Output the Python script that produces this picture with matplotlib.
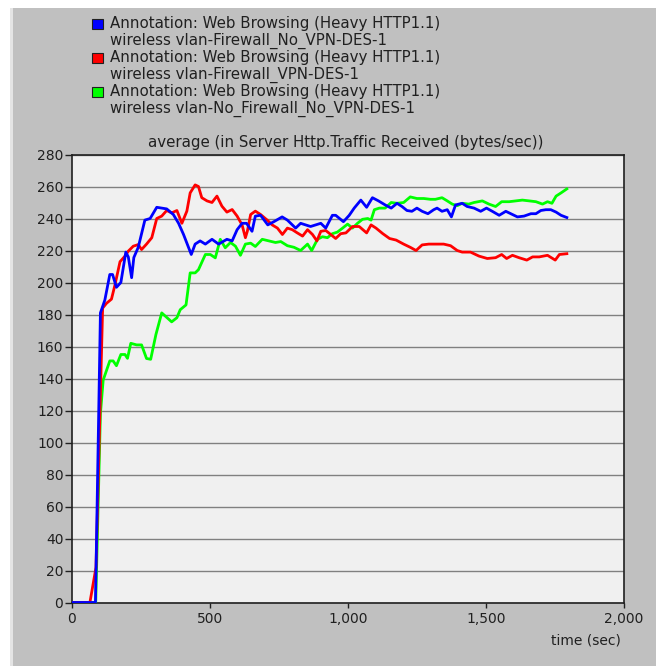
import matplotlib
matplotlib.use("Agg")
import matplotlib.pyplot as plt
from matplotlib.patches import Rectangle

# values (time in sec, bytes/sec)
t_blue = [0, 86, 104, 120, 138, 148, 162, 178, 196, 205,
          217, 225, 241, 265, 284, 308, 344, 368, 387, 405,
          433, 447, 465, 484, 508, 532, 562, 581, 599, 617,
          633, 653, 665, 684, 710, 732, 762, 781, 811, 829,
          865, 902, 920, 944, 956, 984, 1005, 1023, 1047, 1068,
          1089, 1111, 1135, 1157, 1178, 1196, 1214, 1232, 1250, 1269,
          1290, 1311, 1323, 1341, 1360, 1375, 1390, 1414, 1432, 1457,
          1481, 1502, 1523, 1548, 1572, 1590, 1614, 1638, 1663, 1681,
          1699, 1717, 1735, 1754, 1772, 1793]
v_blue = [0, 0, 181, 189, 205, 205, 197, 200, 219, 216,
          203, 215.6, 222, 239, 240, 247, 246, 242.5, 237, 230,
          217.5, 224, 226, 224, 227, 224, 227, 226, 233, 237,
          237, 232, 241.5, 242, 236, 238, 241, 239, 234, 237,
          235, 237, 234, 242, 242, 238, 242, 246.5, 251.5, 247,
          253, 251, 248.5, 246.5, 249.5, 247.5, 245, 244.5, 246.5, 244.5,
          243, 245.5, 246.5, 244.5, 245.5, 241, 248.5, 249.5, 247.5, 246.5,
          244.5, 246.5, 244.5, 242, 244.5, 243, 241, 241.5, 243, 243,
          245, 245.5, 245.5, 244, 242, 240.6]

t_red = [0, 66, 88, 112, 126, 144, 156, 175, 193, 205,
         223, 241, 253, 271, 290, 308, 326, 344, 362, 381,
         399, 417, 429, 447, 459, 471, 490, 508, 526, 544,
         562, 581, 599, 617, 629, 636, 648, 665, 684, 708,
         726, 745, 763, 781, 799, 817, 836, 854, 872, 888,
         902, 920, 938, 956, 974, 993, 1017, 1041, 1068, 1084,
         1102, 1126, 1151, 1175, 1202, 1226, 1247, 1269, 1293, 1323,
         1347, 1372, 1396, 1414, 1444, 1475, 1505, 1535, 1557, 1575,
         1596, 1620, 1648, 1669, 1693, 1723, 1751, 1766, 1793]
v_red = [0, 0, 22, 184, 187, 189.6, 198, 213, 216.5, 219.6,
         222.7, 223.7, 220.6, 224, 228, 240, 241.5, 245, 243.5, 245,
         237, 244.6, 256, 261, 260, 253, 251, 250, 254, 247.7,
         244, 245.6, 241.5, 236, 228, 232, 242.5, 244.6, 242.5, 239,
         236, 234, 230, 234, 233, 231, 229, 233, 230, 226,
         232, 232.5, 230, 227.5, 230.5, 231, 235, 235, 231, 236,
         234, 230.6, 227.5, 226.5, 224, 222, 220, 223.5, 224, 224,
         224, 223, 220, 219, 219, 216.5, 215, 215.5, 217.5, 215,
         217, 215.5, 214, 216, 216, 217, 214, 217.5, 218]

t_green = [0, 87, 104, 114, 138, 150, 162, 178, 193, 202,
           214, 235, 253, 271, 286, 305, 326, 362, 381, 393,
           414, 429, 447, 459, 484, 502, 520, 538, 556, 575,
           593, 611, 629, 648, 665, 690, 714, 738, 757, 781,
           805, 829, 854, 869, 890, 908, 926, 944, 962, 981,
           999, 1017, 1035, 1053, 1072, 1084, 1096, 1114, 1135, 1157,
           1178, 1202, 1226, 1250, 1275, 1299, 1317, 1341, 1360, 1378,
           1396, 1414, 1438, 1457, 1487, 1511, 1535, 1557, 1584, 1608,
           1632, 1657, 1681, 1705, 1723, 1739, 1754, 1772, 1793]
v_green = [0, 0, 118, 139, 151, 151, 148, 155, 155, 152.6,
           162, 161, 161, 152.5, 152, 167.5, 181, 175.4, 178, 183,
           186, 206, 206, 208, 217.5, 217.5, 215.4, 227, 221.7, 225,
           222.7, 217, 224, 224.6, 222.5, 227, 226, 225, 225.6, 223,
           222, 220, 224, 220, 227, 228.6, 228, 230.5, 231.5, 234,
           236.5, 234, 237, 239.5, 240, 239, 245.5, 246.5, 246.5, 250,
           249.5, 250, 253.5, 252.5, 252.5, 252, 252, 253, 251, 249,
           248, 249.5, 249, 250, 251, 249, 247.5, 250.5, 250.5, 251,
           251.5, 251, 250.5, 249, 250.5, 249.5, 254, 256, 258.5]

x_ticks = [0, 500, 1000, 1500, 2000]
x_tick_labels = ['0', '500', '1,000', '1,500', '2,000']
y_ticks = list(range(0, 281, 20))

legend_lines = [
    ('#0000ff', 'Annotation: Web Browsing (Heavy HTTP1.1)', 'wireless vlan-Firewall_No_VPN-DES-1'),
    ('#ff0000', 'Annotation: Web Browsing (Heavy HTTP1.1)', 'wireless vlan-Firewall_VPN-DES-1'),
    ('#00ff00', 'Annotation: Web Browsing (Heavy HTTP1.1)', 'wireless vlan-No_Firewall_No_VPN-DES-1'),
]

# wide sans font, closer to the old windows UI font of the screenshot
plt.rcParams['font.family'] = ['DejaVu Sans']
FS = 10          # tick labels
FS_TXT = 10.8    # legend / title
TXT = '#202020'

W, H = 656, 666
fig = plt.figure(figsize=(W / 100, H / 100), dpi=100, facecolor='#c0c0c0')

# white frame on top and left like the screenshot
fig.patches.append(Rectangle((0, 1 - 8 / H), 1, 8 / H, transform=fig.transFigure,
                             facecolor='white', edgecolor='none', zorder=0))
fig.patches.append(Rectangle((0, 0), 10 / W, 1, transform=fig.transFigure,
                             facecolor='white', edgecolor='none', zorder=0))
fig.patches.append(Rectangle((10 / W, 0), 3 / W, 1 - 8 / H, transform=fig.transFigure,
                             facecolor='#e4e4e4', edgecolor='none', zorder=0))

ax = fig.add_axes([71.7 / W, (H - 602.5) / H, (624 - 71.7) / W, (602.5 - 154.5) / H])
ax.set_facecolor('#f0f0f0')

ax.plot(t_green, v_green, color='#00ff00', linewidth=2, zorder=3)
ax.plot(t_red, v_red, color='#ff0000', linewidth=2, zorder=4)
ax.plot(t_blue, v_blue, color='#0000ff', linewidth=2, zorder=5)

ax.set_xlim(0, 2000)
ax.set_ylim(0, 280)
ax.set_xticks(x_ticks)
ax.set_xticklabels(x_tick_labels)
ax.set_yticks(y_ticks)
ax.yaxis.grid(True, color='#808080', linewidth=1)
ax.xaxis.grid(False)
ax.set_axisbelow(True)
ax.tick_params(axis='x', direction='out', length=3.5, width=1, color=TXT,
               labelsize=FS, labelcolor=TXT, pad=3)
ax.tick_params(axis='y', direction='out', length=5, width=1, color=TXT,
               labelsize=FS, labelcolor=TXT, pad=1)
for s in ax.spines.values():
    s.set_color(TXT)
    s.set_linewidth(1.2)

fig.text(621 / W, 1 - 640 / H, 'time (sec)', ha='right', va='center', fontsize=FS, color=TXT)
fig.text(346 / W, 1 - 142 / H, 'average (in Server Http.Traffic Received (bytes/sec))',
         ha='center', va='center', fontsize=FS_TXT, color=TXT)

# legend block at the top
for i, (col, l1, l2) in enumerate(legend_lines):
    yc = 23.5 + i * 34
    fig.patches.append(Rectangle((92.5 / W, 1 - (yc + 5) / H), 10 / W, 10 / H,
                                 transform=fig.transFigure, facecolor=col,
                                 edgecolor=TXT, linewidth=0.8))
    fig.text(110 / W, 1 - yc / H, l1, ha='left', va='center', fontsize=FS_TXT, color=TXT)
    fig.text(110 / W, 1 - (yc + 17) / H, l2, ha='left', va='center', fontsize=FS_TXT, color=TXT)

plt.savefig('out.png', dpi=100, facecolor=fig.get_facecolor())
